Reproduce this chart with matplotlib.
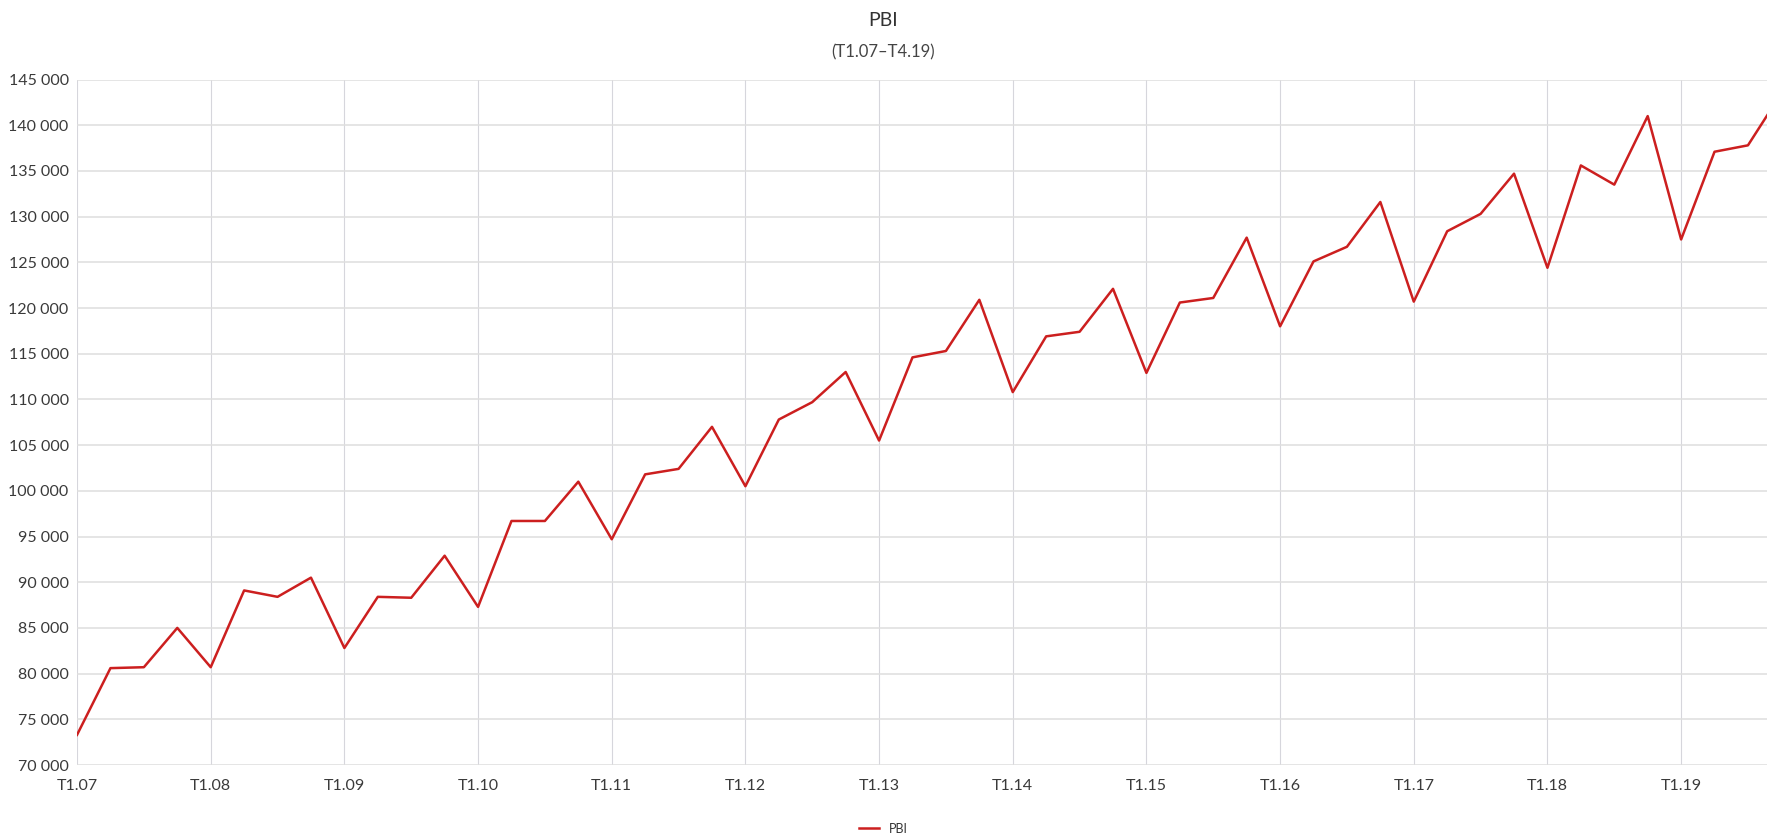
import matplotlib
matplotlib.use("Agg")
import matplotlib.pyplot as plt
from matplotlib.ticker import FuncFormatter

# PBI trimestral, T1.07 - T4.19
years = [f"{y:02d}" for y in range(7, 20)]
quarters = [f"T{q}.{y}" for y in years for q in range(1, 5)]
pbi = [
    73300, 80600, 80700, 85000,
    80700, 89100, 88400, 90500,
    82800, 88400, 88300, 92900,
    87300, 96700, 96700, 101000,
    94700, 101800, 102400, 107000,
    100500, 107800, 109700, 113000,
    105500, 114600, 115300, 120900,
    110800, 116900, 117400, 122100,
    112900, 120600, 121100, 127700,
    118000, 125100, 126700, 131600,
    120700, 128400, 130300, 134700,
    124400, 135600, 133500, 141000,
    127500, 137100, 137800, 143500,
]
y_ticks = list(range(70000, 145001, 5000))

plt.rcParams['font.family'] = ['Lato', 'DejaVu Sans']

fig = plt.figure(figsize=(17.67, 8.38), dpi=100)
ax = fig.add_axes([0.0436, 0.0871, 0.9564, 0.818])

x = list(range(len(pbi)))
ax.plot(x, pbi, color='#cc1f1f', lw=1.8, label='PBI')

ax.set_xlim(0, 50.57)
ax.set_ylim(70000, 145000)
ax.set_yticks(y_ticks)
ax.yaxis.set_major_formatter(FuncFormatter(lambda v, p: f"{int(v):,}".replace(",", " ")))
ax.set_xticks([i for i, q in enumerate(quarters) if q.startswith("T1")])
ax.set_xticklabels([q for q in quarters if q.startswith("T1")])

ax.yaxis.grid(True, color='#dedede', lw=1.1)
ax.xaxis.grid(True, color='#d6d6dc', lw=0.8)
ax.set_axisbelow(True)
for s in ax.spines.values():
    s.set_visible(False)
ax.tick_params(length=0, labelsize=11.5, colors='#3a3a3a')
ax.tick_params(axis='x', pad=10)
ax.tick_params(axis='y', pad=6)

fig.text(0.5, 0.975, 'PBI', ha='center', va='center', fontsize=14, color='#333333')
fig.text(0.5, 0.937, '(T1.07–T4.19)', ha='center', va='center', fontsize=12, color='#444444')

fig.legend(loc='center', bbox_to_anchor=(0.5, 0.011), frameon=False, fontsize=9,
           handlelength=1.6, labelcolor='#333333')

fig.savefig('out.png', dpi=100)
